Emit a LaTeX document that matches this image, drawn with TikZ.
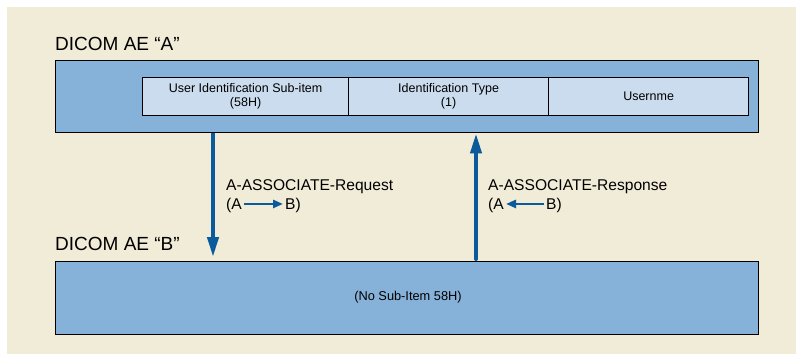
\documentclass[tikz,border=0pt]{standalone}
\usepackage{fontspec}
\setmainfont{Liberation Sans}
\usepackage{tikz}
\usetikzlibrary{arrows.meta}
\usetikzlibrary{positioning}
\usetikzlibrary{calc}
\definecolor{paper}{HTML}{F1ECD8}
\definecolor{aebox}{HTML}{86B1D8}
\definecolor{itembox}{HTML}{CBDCEE}
\definecolor{flow}{HTML}{0B5A9C}
\tikzset{
  aeframe/.style = {draw=black, line width=1.4pt, fill=aebox, anchor=north west,
                    inner sep=0pt, minimum width=703pt},
  itemcell/.style = {draw=black, line width=1.2pt, fill=itembox, anchor=north west,
                     inner sep=0pt, minimum height=38pt, align=center,
                     font=\fontsize{12.5}{14}\selectfont},
  aetitle/.style = {anchor=base west, inner sep=0pt, font=\fontsize{19}{22}\selectfont},
  msgtext/.style = {anchor=base west, inner sep=0pt, font=\fontsize{15.6}{19}\selectfont},
  bigflow/.style = {draw=flow, line width=4pt, -{Triangle[length=20pt,width=11pt]}},
  smallflow/.style = {draw=flow, line width=2.6pt, -{Triangle[length=10pt,width=8pt]}}
}

\begin{document}
\begin{tikzpicture}[x=1pt,y=-1pt]
  \useasboundingbox (0,0) rectangle (796,354);
  \fill[paper] (7,7) rectangle (796,354);

  % entity A
  \node[aetitle] (titleA) at (55,50) {DICOM AE “A”};
  \node[aeframe, minimum height=72pt] (boxA) at (55,60) {};
  \node[itemcell, minimum width=206pt] (subitem) at (142,77)
    {User Identification Sub-item\\(58H)};
  \node[itemcell, minimum width=200pt] (idtype) at (348,77)
    {Identification Type\\(1)};
  \node[itemcell, minimum width=200pt] (uname) at (548,77) {Usernme};

  % entity B
  \node[aetitle] (titleB) at (55,250) {DICOM AE “B”};
  \node[aeframe, minimum height=73pt] (boxB) at (55,261) {};
  \node[inner sep=0pt, font=\fontsize{12.8}{15}\selectfont] (nosub) at (408,297)
    {(No Sub-Item 58H)};

  % request / response
  \coordinate (reqend) at (213,257);
  \coordinate (resstart) at (476,259);
  \draw[bigflow] (boxA.south -| reqend) -- (reqend);
  \draw[bigflow, line cap=round] (resstart) -- (boxA.south -| resstart);

  \node[msgtext] (req) at (226,190) {A-ASSOCIATE-Request};
  \node[msgtext] (reqA) at (226,209) {(A};
  \node[msgtext] (reqB) at (285,209) {B)};
  \draw[smallflow] ($(reqA.east)+(2,-1)$) -- ($(reqB.west)+(-2,-1)$);

  \node[msgtext] (res) at (488,190) {A-ASSOCIATE-Response};
  \node[msgtext] (resA) at (488,209) {(A};
  \node[msgtext] (resB) at (546,209) {B)};
  \draw[smallflow] ($(resB.west)+(-2,-1)$) -- ($(resA.east)+(2,-1)$);
\end{tikzpicture}
\end{document}
